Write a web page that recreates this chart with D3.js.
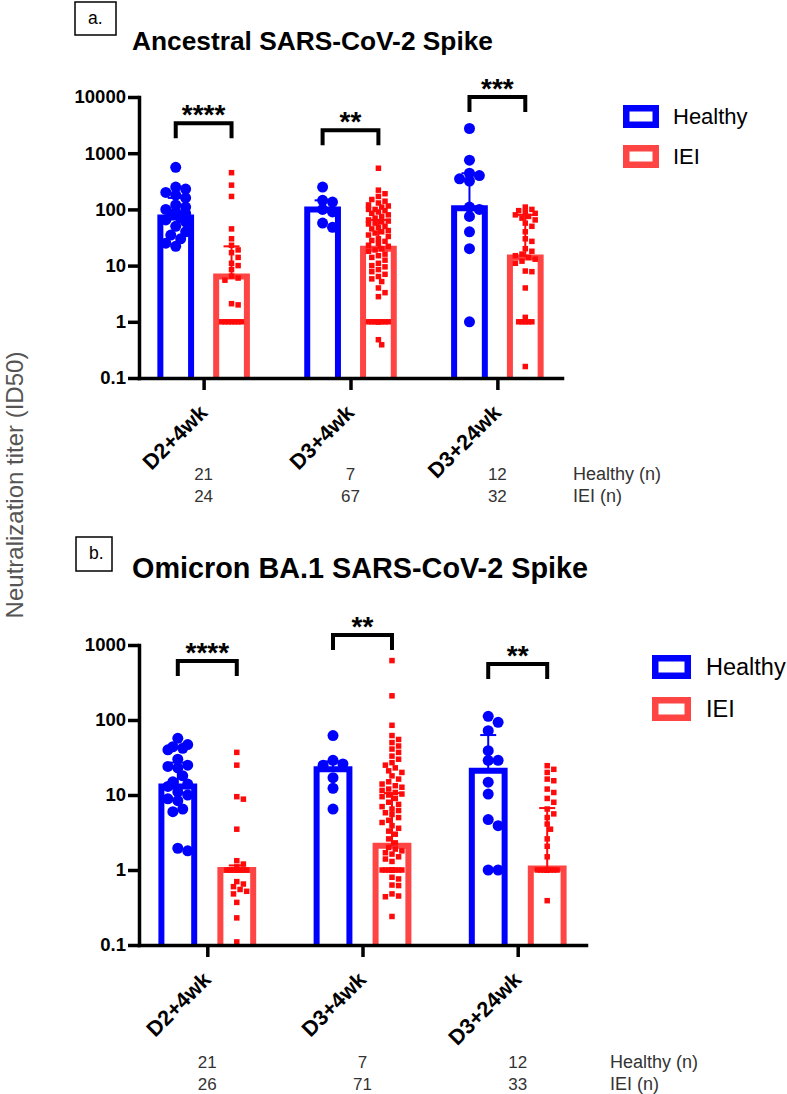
<!DOCTYPE html>
<html>
<head>
<meta charset="utf-8">
<script src="https://cdn.jsdelivr.net/npm/d3@7"></script>
<style>
body { margin: 0; background: #fff; }
svg { display: block; font-family: "Liberation Sans", Arial, sans-serif; }
</style>
</head>
<body>
<svg id="chart" width="787" height="1094"></svg>
<script>
// Shared categories / series
const categories = ["D2+4wk", "D3+4wk", "D3+24wk"];
const seriesNames = ["Healthy", "IEI"];

// Panel a: ancestral spike
const ancestralTicks = [0.1, 1, 10, 100, 1000, 10000];
const ancestralHealthyN = [21, 7, 12];
const ancestralIeiN = [24, 67, 32];
const ancestralHealthyMean = [72, 100, 105];
const ancestralHealthyUpper = [160, 145, 440];
const ancestralIeiMean = [6.4, 20, 14];
const ancestralIeiUpper = [22, 65, 80];
const ancestralStars = ["****", "**", "***"];
const ancestralBracketAt = [3400, 2570, 10000];
const ancestralHealthyPoints = [
  [560, 250, 230, 200, 180, 160, 120, 110, 100, 90, 85, 80, 70, 65, 60, 50, 40, 35, 30, 25, 22],
  [250, 145, 135, 100, 90, 57, 48],
  [2750, 750, 440, 400, 350, 320, 110, 100, 75, 40, 20, 1]
];
const ancestralIeiPoints = [
  [450, 270, 170, 45, 30, 23, 19, 17, 14, 11, 10, 8.5, 6.5, 6, 5.5, 2.1, 2, 1, 1, 1, 1, 1, 1, 1],
  [540, 220, 190, 170, 150, 140, 130, 120, 115, 110, 100, 100, 95, 90, 85, 80, 75, 70, 65, 62,
   60, 57, 55, 50, 48, 45, 42, 40, 38, 35, 33, 30, 28, 27, 25, 23, 22, 20, 19, 18,
   16, 15, 14, 12.5, 11, 10, 9.5, 8.5, 7.8, 7, 6.4, 5.8, 5.2, 4, 3.3, 2.8, 0.48, 0.39,
   1, 1, 1, 1, 1, 1, 1, 1, 1],
  [110, 100, 95, 90, 85, 80, 75, 70, 65, 57, 50, 40, 30, 27, 20, 18, 16, 15, 14, 13,
   12, 11, 8, 7.8, 4, 1.2, 0.16, 1, 1, 1, 1, 1]
];

// Panel b: omicron BA.1 spike
const omicronTicks = [0.1, 1, 10, 100, 1000];
const omicronHealthyN = [21, 7, 12];
const omicronIeiN = [26, 71, 33];
const omicronHealthyMean = [13, 22, 21];
const omicronHealthyUpper = [27, 28, 63];
const omicronIeiMean = [1.0, 2.1, 1.05];
const omicronIeiUpper = [1.15, 10.6, 6.7];
const omicronStars = ["****", "**", "**"];
const omicronBracketAt = [612, 1360, 558];
const omicronHealthyPoints = [
  [57, 47, 44, 42, 40, 30, 25, 24, 23, 18, 15, 14, 13, 11, 10, 8.9, 8.4, 6.5, 6, 1.95, 1.8],
  [62, 29, 26, 25, 17, 12.3, 6.5],
  [112, 93, 72, 39, 29, 29, 14.8, 10.3, 4.7, 3.9, 1, 1]
];
const omicronIeiPoints = [
  [37, 25, 9.5, 8.8, 3.5, 1.33, 1.2, 1.1, 0.7, 0.65, 0.6, 0.55, 0.52, 0.48, 0.37, 0.23, 0.11,
   1, 1, 1, 1, 1, 1, 1, 1, 1],
  [620, 210, 85, 62, 55, 50, 45, 41, 37, 33, 30, 27, 25, 23, 21, 20, 18, 16.3, 15, 14,
   13.3, 12.7, 12, 11.5, 10.8, 10.3, 10, 9.5, 9, 8, 7.5, 7, 6.5, 6.2, 5.8, 5.5, 5, 4.6, 4.3, 3.9,
   3.6, 3.3, 3, 2.6, 2.3, 2.0, 1.9, 1.8, 1.7, 1.63, 1.5, 1.4, 1.3, 0.8, 0.76, 0.63, 0.62, 0.48, 0.45, 0.44,
   0.24, 1, 1, 1, 1, 1, 1, 1, 1, 1, 1],
  [24.6, 22, 20, 16.3, 15.5, 12, 10.8, 9, 8, 6.5, 5.6, 5, 4.1, 3.5, 2.6, 2.07, 1.5, 0.39,
   1, 1, 1, 1, 1, 1, 1, 1, 1, 1, 1, 1, 1, 1, 1]
];

const BLUE = "#0000ff";
const RED_BAR = "#ff4444";
const RED_DOT = "#ff0a0a";

// Simple deterministic beeswarm: spread points sideways until they stop overlapping
function swarm(values, cx, y, minDist, maxSpread) {
  const placed = [];
  const order = values.slice().sort((a, b) => b - a);
  const stepX = minDist * 0.55;
  order.forEach(v => {
    const py = y(v);
    let best = 0, bestGap = -1;
    for (let k = 0; k * stepX <= maxSpread; k++) {
      const offs = k === 0 ? [0] : [k * stepX, -k * stepX];
      for (const o of offs) {
        const g = placed.length ? d3.min(placed, p => Math.hypot(p.x - (cx + o), p.y - py)) : Infinity;
        if (g >= minDist) { best = o; bestGap = Infinity; break; }
        if (g > bestGap) { bestGap = g; best = o; }
      }
      if (bestGap === Infinity) break;
    }
    placed.push({ x: cx + best, y: py, v: v });
  });
  return placed;
}

class TiterPanel {
  constructor(svg, opts) {
    this.svg = svg;
    this.o = opts;
    this.g = svg.append("g");

    this.y = d3.scaleLog()
      .domain([0.1, d3.max(opts.ticks)])
      .range([opts.plot.bottom, opts.plot.top]);

    this.x = d3.scalePoint()
      .domain(categories)
      .range([opts.plot.left, opts.plot.right])
      .padding(0.44);

    const step = this.x.step();
    this.sub = d3.scalePoint().domain(seriesNames).range([-0.19 * step, 0.19 * step]);
    this.barW = 0.25 * step;

    this.drawHeader();
    this.drawBars();
    this.drawAxes();
    this.drawBrackets();
    this.drawCounts();
    this.drawLegend();
  }

  drawHeader() {
    const o = this.o;
    this.g.append("rect")
      .attr("x", o.box.x).attr("y", o.box.y)
      .attr("width", o.box.w).attr("height", o.box.h)
      .attr("fill", "none").attr("stroke", "#000").attr("stroke-width", 1.5);
    this.g.append("text")
      .attr("x", o.box.x + 13).attr("y", o.box.y + 22)
      .attr("font-size", 17.5).text(o.tag);
    this.g.append("text")
      .attr("x", o.titleX).attr("y", o.titleY)
      .attr("font-size", o.titleSize).attr("font-weight", "bold")
      .text(o.title);
  }

  drawBars() {
    const o = this.o, y = this.y, sw = 6;
    const series = [
      { name: "Healthy", mean: o.healthyMean, upper: o.healthyUpper, pts: o.healthyPoints, bar: BLUE, dot: BLUE },
      { name: "IEI", mean: o.ieiMean, upper: o.ieiUpper, pts: o.ieiPoints, bar: RED_BAR, dot: RED_DOT }
    ];

    // open-bottom outlined bars (the x axis closes them)
    series.forEach(s => {
      categories.forEach((c, i) => {
        const cx = this.x(c) + this.sub(s.name);
        const l = cx - this.barW / 2 + sw / 2, r = cx + this.barW / 2 - sw / 2;
        const p = d3.path();
        p.moveTo(l, o.plot.bottom);
        p.lineTo(l, y(s.mean[i]));
        p.lineTo(r, y(s.mean[i]));
        p.lineTo(r, o.plot.bottom);
        this.g.append("path")
          .attr("d", p.toString())
          .attr("fill", "none")
          .attr("stroke", s.bar)
          .attr("stroke-width", sw)
          .attr("stroke-linejoin", "miter");
      });
    });

    series.forEach(s => {
      categories.forEach((c, i) => {
        const cx = this.x(c) + this.sub(s.name);
        // upper error bar
        const eg = this.g.append("g").attr("stroke", s.dot).attr("stroke-width", 2);
        eg.append("line").attr("x1", cx).attr("x2", cx)
          .attr("y1", y(s.mean[i])).attr("y2", y(s.upper[i]));
        eg.append("line").attr("x1", cx - 8).attr("x2", cx + 8)
          .attr("y1", y(s.upper[i])).attr("y2", y(s.upper[i]));

        if (s.name === "Healthy") {
          this.g.append("g").selectAll("circle")
            .data(swarm(s.pts[i], cx, y, 9, 14))
            .join("circle")
            .attr("cx", d => d.x).attr("cy", d => d.y)
            .attr("r", 5.5).attr("fill", s.dot);
        } else {
          const sz = 5.5;
          this.g.append("g").selectAll("rect")
            .data(swarm(s.pts[i], cx, y, 6, 12))
            .join("rect")
            .attr("x", d => d.x - sz / 2).attr("y", d => d.y - sz / 2)
            .attr("width", sz).attr("height", sz)
            .attr("fill", s.dot);
        }
      });
    });
  }

  drawAxes() {
    const o = this.o;
    const yAxis = d3.axisLeft(this.y)
      .tickValues(o.ticks)
      .tickFormat(d => String(d))
      .tickSize(11).tickSizeOuter(0).tickPadding(2);
    const ya = this.g.append("g")
      .attr("transform", `translate(${o.plot.left},0)`)
      .call(yAxis);

    const xAxis = d3.axisBottom(this.x).tickSize(12).tickSizeOuter(0).tickFormat("");
    const xa = this.g.append("g")
      .attr("transform", `translate(0,${o.plot.bottom})`)
      .call(xAxis);

    [ya, xa].forEach(a => {
      a.select(".domain").attr("stroke-width", 3.5).attr("stroke-linecap", "square");
      a.selectAll(".tick line").attr("stroke-width", 3.5);
    });
    ya.selectAll(".tick text")
      .attr("font-size", 18.5).attr("font-weight", "bold")
      .attr("font-family", "Liberation Sans, Arial, sans-serif").attr("fill", "#000");

    // rotated category labels
    this.g.append("g").selectAll("text")
      .data(categories)
      .join("text")
      .attr("transform", c => `translate(${this.x(c) + 5},${o.plot.bottom + 36}) rotate(-45)`)
      .attr("text-anchor", "end")
      .attr("font-size", 21.5).attr("font-weight", "bold")
      .text(c => c);
  }

  drawBrackets() {
    const o = this.o, y = this.y;
    categories.forEach((c, i) => {
      const x1 = this.x(c) + this.sub("Healthy");
      const x2 = this.x(c) + this.sub("IEI");
      const yb = y(o.bracketAt[i]);
      const p = d3.path();
      p.moveTo(x1, yb + 15); p.lineTo(x1, yb); p.lineTo(x2, yb); p.lineTo(x2, yb + 15);
      this.g.append("path").attr("d", p.toString())
        .attr("fill", "none").attr("stroke", "#000").attr("stroke-width", 4);
      this.g.append("text")
        .attr("x", (x1 + x2) / 2).attr("y", yb + 1)
        .attr("text-anchor", "middle")
        .attr("font-size", 28).attr("font-weight", "bold")
        .text(o.stars[i]);
    });
  }

  drawCounts() {
    const o = this.o;
    const rows = [o.nHealthy, o.nIei];
    rows.forEach((row, r) => {
      this.g.append("g").selectAll("text")
        .data(row)
        .join("text")
        .attr("x", (d, i) => this.x(categories[i]))
        .attr("y", o.countY[r])
        .attr("text-anchor", "middle")
        .attr("font-size", 17).attr("fill", "#333")
        .text(d => d);
    });
    ["Healthy (n)", "IEI (n)"].forEach((t, r) => {
      this.g.append("text")
        .attr("x", o.countLabelX).attr("y", o.countY[r])
        .attr("font-size", 18).attr("fill", "#333")
        .text(t);
    });
  }

  drawLegend() {
    const L = this.o.legend, sw = 6.5;
    const colors = [BLUE, RED_BAR];
    seriesNames.forEach((s, i) => {
      const top = L.y + i * L.gap;
      this.g.append("rect")
        .attr("x", L.x + sw / 2).attr("y", top + sw / 2)
        .attr("width", L.w - sw).attr("height", L.h - sw)
        .attr("fill", "#fff").attr("stroke", colors[i]).attr("stroke-width", sw);
      this.g.append("text")
        .attr("x", L.tx).attr("y", top + L.h / 2 + L.font * 0.35)
        .attr("font-size", L.font)
        .text(s);
    });
  }
}

const svg = d3.select("#chart");

svg.append("text")
  .attr("transform", "translate(23,485) rotate(-90)")
  .attr("text-anchor", "middle")
  .attr("font-size", 24).attr("fill", "#555")
  .text("Neutralization titer (ID50)");

new TiterPanel(svg, {
  tag: "a.", box: { x: 75, y: 2, w: 41, h: 33 },
  title: "Ancestral SARS-CoV-2 Spike", titleX: 132, titleY: 50, titleSize: 26.3,
  plot: { left: 139, right: 562, top: 97, bottom: 378 },
  ticks: ancestralTicks,
  healthyMean: ancestralHealthyMean, healthyUpper: ancestralHealthyUpper,
  ieiMean: ancestralIeiMean, ieiUpper: ancestralIeiUpper,
  healthyPoints: ancestralHealthyPoints, ieiPoints: ancestralIeiPoints,
  stars: ancestralStars, bracketAt: ancestralBracketAt,
  nHealthy: ancestralHealthyN, nIei: ancestralIeiN,
  countY: [480, 502], countLabelX: 573,
  legend: { x: 623, y: 105, w: 36, h: 23, gap: 40, tx: 673, font: 22 }
});

new TiterPanel(svg, {
  tag: "b.", box: { x: 76, y: 537, w: 36, h: 34 },
  title: "Omicron BA.1 SARS-CoV-2 Spike", titleX: 132, titleY: 578, titleSize: 28.8,
  plot: { left: 139, right: 586, top: 645, bottom: 945 },
  ticks: omicronTicks,
  healthyMean: omicronHealthyMean, healthyUpper: omicronHealthyUpper,
  ieiMean: omicronIeiMean, ieiUpper: omicronIeiUpper,
  healthyPoints: omicronHealthyPoints, ieiPoints: omicronIeiPoints,
  stars: omicronStars, bracketAt: omicronBracketAt,
  nHealthy: omicronHealthyN, nIei: omicronIeiN,
  countY: [1068, 1090], countLabelX: 610,
  legend: { x: 652, y: 655, w: 39, h: 24, gap: 42, tx: 706, font: 23.5 }
});
</script>
</body>
</html>
